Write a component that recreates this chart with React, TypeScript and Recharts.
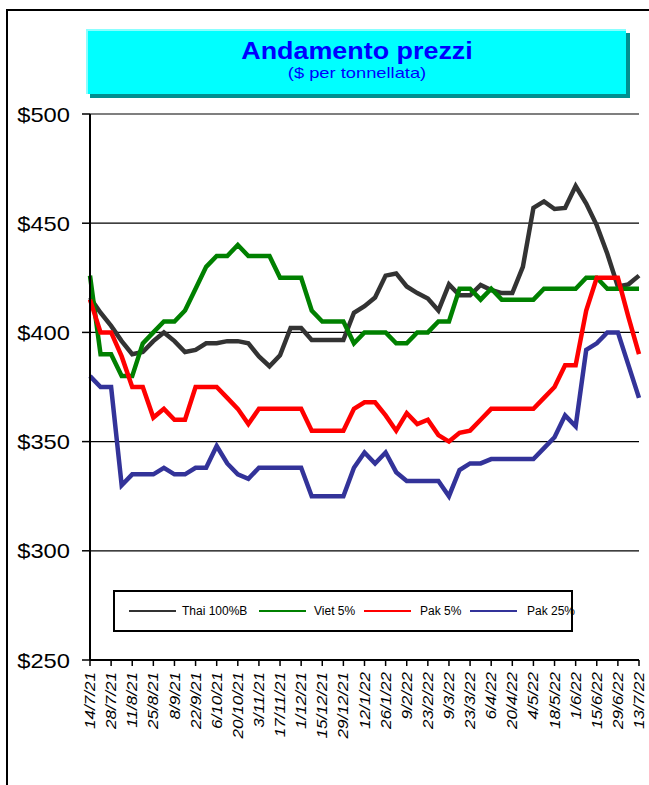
import React from "react";
import { LineChart, Line, XAxis, YAxis, CartesianGrid } from "recharts";

const dates = [
  "14/7/21", "21/7/21", "28/7/21", "4/8/21", "11/8/21", "18/8/21", "25/8/21", "1/9/21",
  "8/9/21", "15/9/21", "22/9/21", "29/9/21", "6/10/21", "13/10/21", "20/10/21", "27/10/21",
  "3/11/21", "10/11/21", "17/11/21", "24/11/21", "1/12/21", "8/12/21", "15/12/21", "22/12/21",
  "29/12/21", "5/1/22", "12/1/22", "19/1/22", "26/1/22", "2/2/22", "9/2/22", "16/2/22",
  "23/2/22", "2/3/22", "9/3/22", "16/3/22", "23/3/22", "30/3/22", "6/4/22", "13/4/22",
  "20/4/22", "27/4/22", "4/5/22", "11/5/22", "18/5/22", "25/5/22", "1/6/22", "8/6/22",
  "15/6/22", "22/6/22", "29/6/22", "6/7/22", "13/7/22",
];

const thai = [
  416, 409, 403, 396, 390, 391, 396, 400, 396, 391, 392, 395, 395, 396, 396, 395,
  389, 384.5, 389.5, 402, 402, 396.5, 396.5, 396.5, 396.5, 409, 412, 416, 426, 427,
  421, 418, 415.5, 410, 422, 417, 417, 421.7, 419.4, 418, 418, 430, 457, 460, 456.5,
  457, 467, 459, 449, 436, 421, 422, 426,
];

const viet = [
  426, 390, 390, 380, 380, 395, 400, 405, 405, 410, 420, 430, 435, 435, 440, 435,
  435, 435, 425, 425, 425, 410, 405, 405, 405, 395, 400, 400, 400, 395, 395, 400,
  400, 405, 405, 420, 420, 415, 420, 415, 415, 415, 415, 420, 420, 420, 420, 425,
  425, 420, 420, 420, 420,
];

const pak5 = [
  415, 400, 400, 389, 375, 375, 361, 365, 360, 360, 375, 375, 375, 370, 365, 358,
  365, 365, 365, 365, 365, 355, 355, 355, 355, 365, 368, 368, 362, 355, 363, 358,
  360, 353, 350, 354, 355, 360, 365, 365, 365, 365, 365, 370, 375, 385, 385, 410,
  425, 425, 425, 407, 390,
];

const pak25 = [
  380, 375, 375, 330, 335, 335, 335, 338, 335, 335, 338, 338, 348, 340, 335, 333,
  338, 338, 338, 338, 338, 325, 325, 325, 325, 338, 345, 340, 345, 336, 332, 332,
  332, 332, 325, 337, 340, 340, 342, 342, 342, 342, 342, 347, 352, 362, 357, 392,
  395, 400, 400, 385, 370,
];

const yTicks = [250, 300, 350, 400, 450, 500];

const seriesNames = ["Thai 100%B", "Viet 5%", "Pak 5%", "Pak 25%"];
const seriesColors = ["#333333", "#008000", "#FF0000", "#333399"];

const data = dates.map((d, i) => ({
  date: d,
  thai: thai[i],
  viet: viet[i],
  pak5: pak5[i],
  pak25: pak25[i],
}));

const FONT = "'Liberation Sans', Arial, sans-serif";

const XTick = (props: any) => {
  const { x, y, payload } = props;
  return (
    <g transform={`translate(${x}, ${y + 4}) rotate(-90) scale(1.22, 1)`}>
      <text
        x={0}
        y={0}
        textAnchor="end"
        dy="0.36em"
        fontFamily={FONT}
        fontStyle="italic"
        fontSize={14}
        fill="#000"
      >
        {payload.value}
      </text>
    </g>
  );
};

const YTick = (props: any) => {
  const { x, y, payload } = props;
  return (
    <g transform={`translate(${x}, ${y}) scale(1.13, 1)`}>
      <text x={0} y={0} textAnchor="end" dy="0.36em" fontFamily={FONT} fontSize={21} fill="#000">
        {`$${payload.value}`}
      </text>
    </g>
  );
};

const legendLineX = [14, 144, 249, 355];
const legendTextX = [67, 199, 305, 412];

const LegendBox = () => (
  <div
    style={{
      position: "absolute",
      left: 113,
      top: 590,
      width: 460,
      height: 42,
      border: "2px solid #000",
      background: "#fff",
      boxSizing: "border-box",
      fontFamily: FONT,
      fontSize: 12,
    }}
  >
    {seriesNames.map((n, i) => (
      <React.Fragment key={n}>
        <div
          style={{
            position: "absolute",
            left: legendLineX[i],
            top: 18,
            width: 47,
            height: 2,
            background: seriesColors[i],
          }}
        />
        <span
          style={{
            position: "absolute",
            left: legendTextX[i],
            top: 11,
            color: "#000",
            whiteSpace: "nowrap",
            lineHeight: "16px",
          }}
        >
          {n}
        </span>
      </React.Fragment>
    ))}
  </div>
);

export default function App() {
  return (
    <div style={{ position: "absolute", left: 0, top: 0, width: 649, height: 785, overflow: "hidden", background: "#fff" }}>
      <div
        style={{
          position: "absolute",
          left: 6,
          top: 9,
          width: 700,
          height: 800,
          border: "2px solid #000",
          boxSizing: "border-box",
        }}
      />
      <div
        style={{
          position: "absolute",
          left: 90,
          top: 33,
          width: 540,
          height: 65,
          background: "#009090",
        }}
      />
      <div
        style={{
          position: "absolute",
          left: 86,
          top: 29,
          width: 540,
          height: 65,
          background: "#00FFFF",
          borderTop: "2px solid #88FFFF",
          borderLeft: "2px solid #88FFFF",
          boxSizing: "border-box",
          textAlign: "center",
          fontFamily: FONT,
          color: "#0000FF",
        }}
      >
        <div
          style={{
            fontSize: 24,
            fontWeight: "bold",
            marginTop: 6,
            lineHeight: "27px",
            transform: "scaleX(1.12)",
          }}
        >
          Andamento prezzi
        </div>
        <div style={{ fontSize: 15, lineHeight: "18px", transform: "scaleX(1.22)" }}>($ per tonnellata)</div>
      </div>
      <div style={{ position: "absolute", left: 0, top: 0 }}>
        <LineChart
          width={649}
          height={785}
          data={data}
          margin={{ top: 114, right: 10, bottom: 25, left: 0 }}
        >
          <CartesianGrid horizontal={true} vertical={false} stroke="#000" strokeWidth={1.2} />
          <XAxis
            dataKey="date"
            interval={1}
            tick={<XTick />}
            tickSize={6}
            height={100}
            axisLine={{ stroke: "#000", strokeWidth: 2 }}
            tickLine={{ stroke: "#000", strokeWidth: 1.5 }}
          />
          <YAxis
            domain={[250, 500]}
            ticks={yTicks}
            width={90}
            tickSize={8}
            tickMargin={12}
            axisLine={{ stroke: "#000", strokeWidth: 2 }}
            tickLine={{ stroke: "#000", strokeWidth: 1.5 }}
            tick={<YTick />}
          />
          <YAxis
            yAxisId="right"
            orientation="right"
            domain={[250, 500]}
            width={0}
            tick={false}
            tickLine={false}
            axisLine={{ stroke: "#000", strokeWidth: 2 }}
          />
          <Line type="linear" dataKey="thai" name={seriesNames[0]} stroke={seriesColors[0]} strokeWidth={4.5} dot={false} isAnimationActive={false} />
          <Line type="linear" dataKey="viet" name={seriesNames[1]} stroke={seriesColors[1]} strokeWidth={4.5} dot={false} isAnimationActive={false} />
          <Line type="linear" dataKey="pak5" name={seriesNames[2]} stroke={seriesColors[2]} strokeWidth={4.5} dot={false} isAnimationActive={false} />
          <Line type="linear" dataKey="pak25" name={seriesNames[3]} stroke={seriesColors[3]} strokeWidth={4.5} dot={false} isAnimationActive={false} />
        </LineChart>
      </div>
      <LegendBox />
    </div>
  );
}
